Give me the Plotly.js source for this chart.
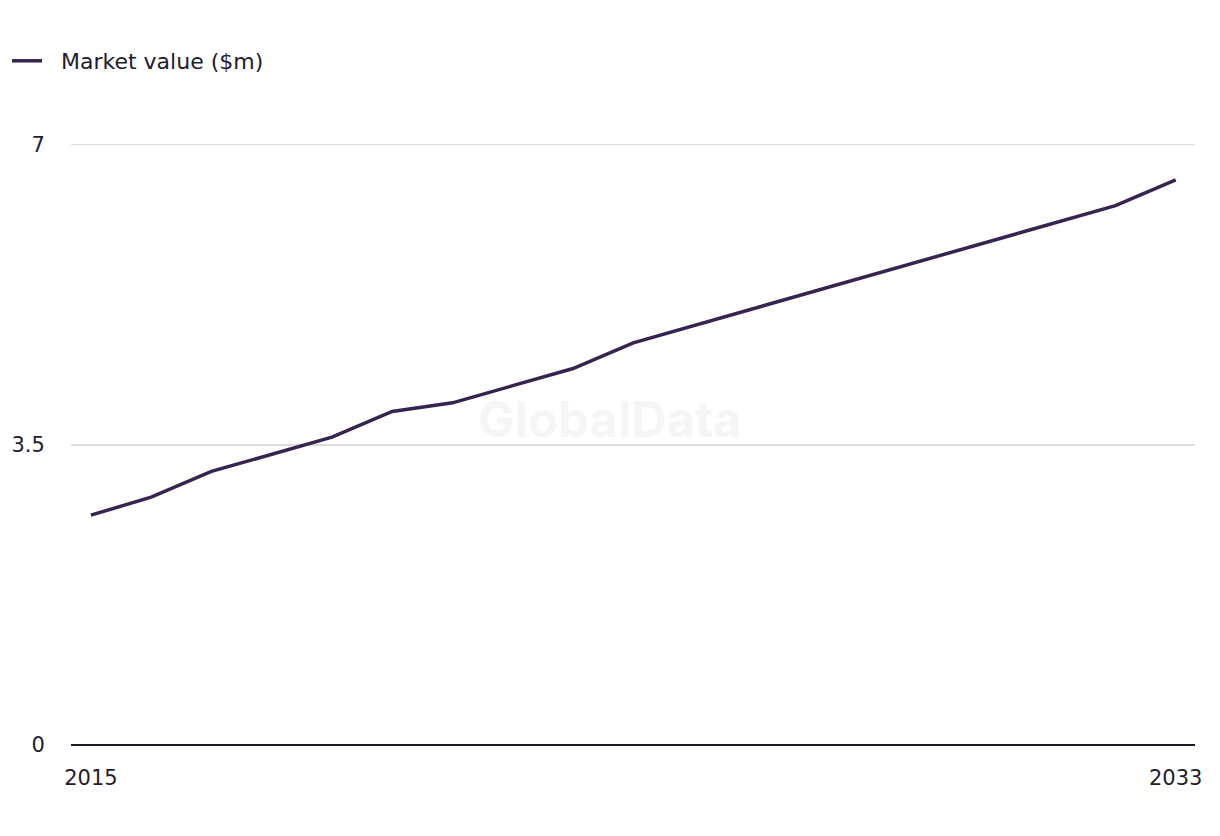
<!DOCTYPE html>
<html>
<head>
<meta charset="utf-8">
<script src="https://cdn.plot.ly/plotly-3.0.1.min.js"></script>
<style>html,body{margin:0;padding:0;background:#fff;}#chart{width:1220px;height:836px;}</style>
</head>
<body>
<div id="chart"></div>
<script>
const years = [2015,2016,2017,2018,2019,2020,2021,2022,2023,2024,2025,2026,2027,2028,2029,2030,2031,2032,2033];
const marketValue = [2.68,2.89,3.19,3.39,3.59,3.89,3.99,4.19,4.39,4.69,4.89,5.09,5.29,5.49,5.69,5.89,6.09,6.29,6.59];
const seriesName = "Market value ($m)";
const xTickVals = [2015, 2033];
const yTickVals = [0, 3.5, 7];
const yTickText = ["0", "3.5", "7"];

const fontFam = "'DejaVu Sans', 'Noto Sans', sans-serif";
const data = [{
  x: years, y: marketValue, type: 'scatter', mode: 'lines', name: '\u00a0\u00a0' + seriesName,
  line: {color: '#37234f', width: 3.5}
}];
const layout = {
  width: 1220, height: 836,
  margin: {l: 71, r: 25, t: 143.3, b: 91},
  paper_bgcolor: '#fff', plot_bgcolor: '#fff',
  font: {family: fontFam, size: 21, color: '#1e1d2d'},
  showlegend: true,
  legend: {xref: 'container', yref: 'container', x: 7/1220, y: 1 - 61/836, xanchor: 'left', yanchor: 'middle',
           orientation: 'h', font: {size: 22, color: '#1e1d2d'}, itemwidth: 30},
  xaxis: {range: [2014.67, 2033.32], tickvals: xTickVals, ticktext: xTickVals.map(String),
          showgrid: false, zeroline: false, showline: false, ticks: 'outside', ticklen: 14, tickcolor: 'rgba(0,0,0,0)',
          fixedrange: true},
  yaxis: {range: [0, 7.02], tickvals: yTickVals, ticktext: yTickText,
          showgrid: true, gridcolor: '#dcdcdf', gridwidth: 1.3,
          zeroline: true, zerolinecolor: '#1a1a2a', zerolinewidth: 2,
          showline: false, ticks: 'outside', ticklen: 21, tickcolor: 'rgba(0,0,0,0)', fixedrange: true},
  annotations: [{text: '<b>GlobalData</b>', xref: 'paper', yref: 'paper', x: (610-71)/1124, y: (745-420)/601.7,
                 showarrow: false, font: {size: 49, color: '#f5f5f6', family: "Inter, sans-serif"}}]
};
Plotly.newPlot('chart', data, layout, {displayModeBar: false, staticPlot: true});
</script>
</body>
</html>
